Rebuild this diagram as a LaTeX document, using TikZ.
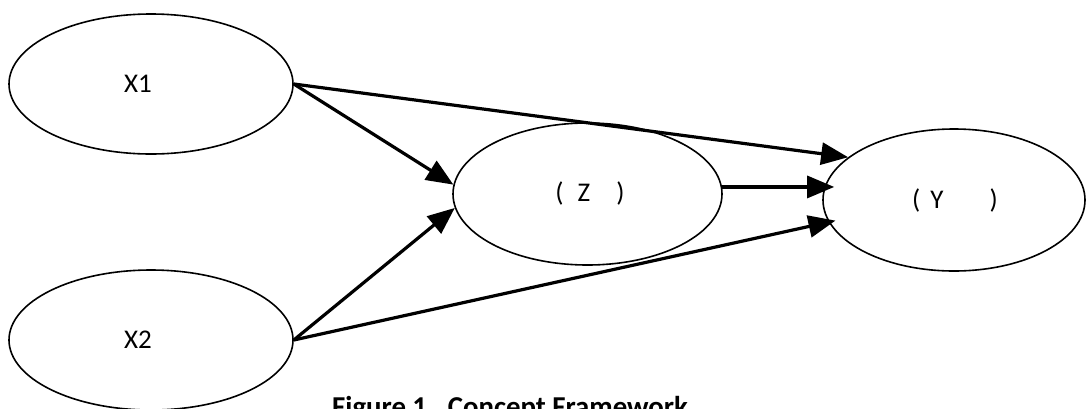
\documentclass[tikz,border=0pt]{standalone}
\usepackage{fontspec}
\setmainfont{Carlito}
\usetikzlibrary{shapes.geometric,arrows.meta}
\begin{document}
\begin{tikzpicture}[x=1pt,y=-1pt,
  var/.style={ellipse,draw,line width=1.6pt,inner sep=0pt},
  lbl/.style={font=\fontsize{27}{32}\selectfont,inner sep=0pt},
  arr/.style={line width=3.2pt,-{Triangle[length=27pt,width=22pt]}}]
\useasboundingbox (0,0) rectangle (1087,408);
\clip (0,0) rectangle (1087,408);
\node[var,minimum width=284pt,minimum height=140pt] (X1) at (151,84) {};
\node[var,minimum width=284pt,minimum height=140pt] (X2) at (151,340) {};
\node[var,minimum width=269pt,minimum height=142pt] (Z) at (587.5,194) {};
\node[var,minimum width=262pt,minimum height=142pt] (Y) at (954,200) {};
\node[lbl] (tX1) at (138,84) {X1};
\node[lbl] (tX2) at (138,340) {X2};
\node[lbl] (tZ) at (590,193) {(\hspace{14pt}Z\hspace{26pt})};
\node[lbl] (tY) at (955,200) {(\hspace{10pt}Y\hspace{46pt})};
\node[lbl,font=\fontsize{28.8}{34}\selectfont\bfseries,anchor=base west] (cap) at (332,416.5) {Figure 1.\ \ Concept Framework};
\draw[arr] (X1.east) -- (Z.176);
\draw[arr] (X2.east) -- (Z.186);
\draw[arr] (X1.east) -- (Y.158);
\draw[arr,shorten >=-7pt] (X2.east) -- (Y.190);
\draw[arr,shorten >=-12pt] (Z.3) -- (Z.3 -| Y.west);
\end{tikzpicture}
\end{document}
